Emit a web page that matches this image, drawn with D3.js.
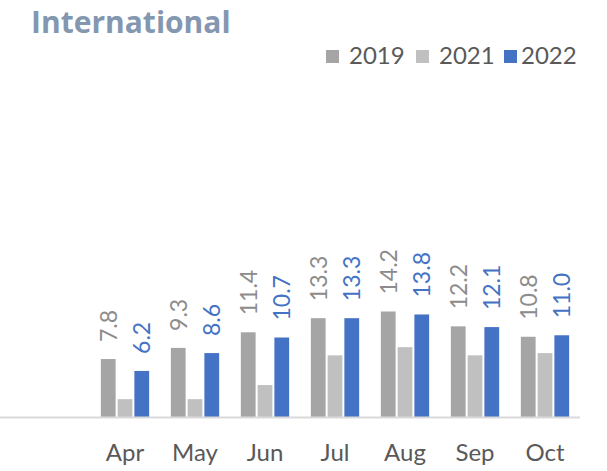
<!DOCTYPE html>
<html>
<head>
<meta charset="utf-8">
<script src="https://cdn.jsdelivr.net/npm/d3@7/dist/d3.min.js"></script>
<style>
  html, body { margin: 0; padding: 0; background: #fff; }
  svg { display: block; }
</style>
</head>
<body>
<div id="chart"></div>
<script>
const months = ["Apr", "May", "Jun", "Jul", "Aug", "Sep", "Oct"];
const seriesNames = ["2019", "2021", "2022"];
const values2019 = [7.8, 9.3, 11.4, 13.3, 14.2, 12.2, 10.8];
const values2021 = [2.4, 2.4, 4.3, 8.3, 9.4, 8.3, 8.6];
const values2022 = [6.2, 8.6, 10.7, 13.3, 13.8, 12.1, 11.0];
const labelledSeries = ["2019", "2022"];
const colors = { "2019": "#a5a5a5", "2021": "#c0c0c0", "2022": "#4472c4" };
const labelColors = { "2019": "#8c8c8c", "2022": "#4472c4" };

const seriesValues = { "2019": values2019, "2021": values2021, "2022": values2022 };
const data = months.map((m, i) => ({
  month: m,
  vals: seriesNames.map(s => ({ series: s, value: seriesValues[s][i] }))
}));

const W = 607, H = 471;
const FONT = "Lato, 'Open Sans', sans-serif";
const svg = d3.select("#chart").append("svg").attr("width", W).attr("height", H);

const baseY = 417;
const x = d3.scaleBand().domain(months).range([90, 580]).paddingInner(0.31).paddingOuter(0.155);
const xs = d3.scaleBand().domain(seriesNames).range([0, x.bandwidth()]).paddingInner(0.12);
const y = d3.scaleLinear().domain([0, 16]).range([baseY, baseY - 16 * 7.43]);

// Title
svg.append("text").attr("x", 31).attr("y", 33)
  .attr("font-family", "'Open Sans', sans-serif").attr("font-weight", 700)
  .attr("font-size", 30).attr("fill", "#8497b0").text("International");

// Bars
const groups = svg.append("g").selectAll("g").data(data).join("g")
  .attr("transform", d => `translate(${x(d.month)},0)`);
groups.selectAll("rect").data(d => d.vals).join("rect")
  .attr("x", d => xs(d.series)).attr("width", xs.bandwidth())
  .attr("y", d => y(d.value)).attr("height", d => y(0) - y(d.value))
  .attr("fill", d => colors[d.series]);

// Labels
groups.selectAll("text.lbl").data(d => d.vals.filter(v => labelledSeries.includes(v.series))).join("text")
  .attr("class", "lbl")
  .attr("transform", d => `translate(${xs(d.series) + xs.bandwidth() / 2},${y(d.value) - 17}) rotate(-90)`)
  .attr("dy", "0.36em")
  .attr("text-anchor", "start")
  .attr("font-family", FONT).attr("font-size", 23)
  .attr("fill", d => labelColors[d.series])
  .text(d => d.value.toFixed(1));

// Axis
svg.append("line").attr("x1", 0).attr("x2", 580).attr("y1", baseY + 0.5).attr("y2", baseY + 0.5)
  .attr("stroke", "#d9d9d9").attr("stroke-width", 2);
const ax = svg.append("g").attr("transform", `translate(0,${baseY})`)
  .call(d3.axisBottom(x).tickSize(0).tickPadding(0));
ax.select(".domain").remove();
ax.selectAll("text").attr("font-family", FONT).attr("font-size", 24)
  .attr("fill", "#595959").attr("dy", null).attr("y", 44);

// Legend
const legendItems = [
  { name: "2019", sx: 326, tx: 349 },
  { name: "2021", sx: 416, tx: 439 },
  { name: "2022", sx: 504, tx: 521 }
];
const lg = svg.append("g");
seriesNames.forEach((s, i) => {
  const it = legendItems[i];
  lg.append("rect").attr("x", it.sx).attr("y", 50).attr("width", 13).attr("height", 13).attr("fill", colors[s]);
  lg.append("text").attr("x", it.tx).attr("y", 64).attr("font-family", FONT).attr("font-size", 24)
    .attr("fill", "#595959").text(s);
});
</script>
</body>
</html>
